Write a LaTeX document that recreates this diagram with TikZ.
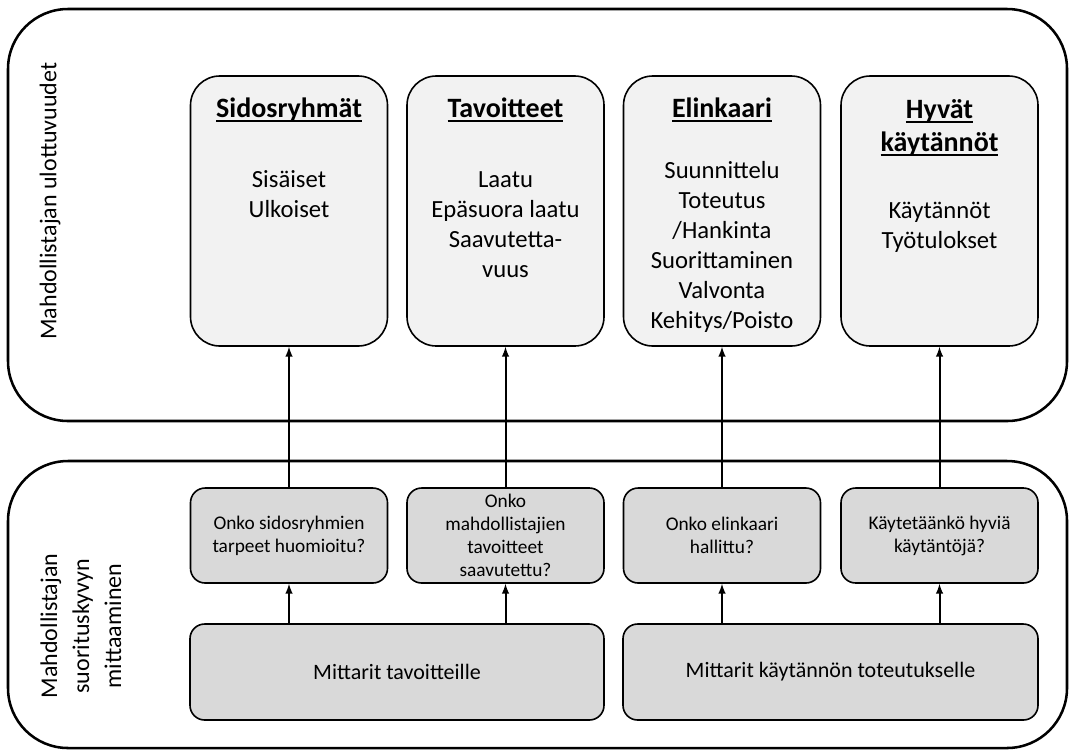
\documentclass[tikz,border=0pt]{standalone}
\usepackage{fontspec}
\setmainfont{Carlito}
\usetikzlibrary{positioning}

\definecolor{boxlight}{HTML}{F2F2F2}
\definecolor{boxgray}{HTML}{D9D9D9}

\tikzstyle{outer frame}=[draw,line width=1.9pt,rounded corners=45pt,
    inner sep=0pt,minimum width=794.25pt]
\tikzstyle{dim box}=[draw,fill=boxlight,line width=1.2pt,rounded corners=22pt,
    minimum width=147.75pt,minimum height=202.5pt,inner sep=0pt]
\tikzstyle{question}=[draw,fill=boxgray,line width=1.2pt,rounded corners=11pt,
    minimum width=147.75pt,minimum height=71.25pt,inner xsep=2pt,inner ysep=0pt,
    align=center,font=\fontsize{14.5}{17.25}\selectfont]
\tikzstyle{metric}=[draw,fill=boxgray,line width=1.2pt,rounded corners=11pt,
    minimum height=72pt,font=\fontsize{16.5}{19.5}\selectfont]
\tikzstyle{title}=[align=center,font=\fontsize{21}{24.75}\selectfont\bfseries]
\tikzstyle{items}=[align=center,font=\fontsize{18.5}{22.5}\selectfont]
\tikzstyle{side}=[rotate=90,align=center,font=\fontsize{18}{24}\selectfont]
\tikzstyle{measure}=[line width=1.5pt]
\newcommand{\titleul}[1]{\setbox0=\hbox{#1}\rlap{\rule[-3pt]{\wd0}{1.1pt}}\box0}
\newcommand{\dimbox}[2]{
    \node[dim box] at (#2,211) (#1) {};
}
\newcommand{\measure}[3][]{\draw[->,>=latex,measure,#1] (#2) -- (#3);}

\begin{document}
\begin{tikzpicture}[x=0.75pt,y=-0.75pt]
    \useasboundingbox (0,0) rectangle (1070,751);

    \node[outer frame,minimum height=309pt] at (537.5,215) (dims) {};
    \node[outer frame,minimum height=215.25pt] at (537.5,604.5) (meas) {};
    \node[side] at (50,201) (dimlabel) {Mahdollistajan ulottuvuudet};
    \node[side] at (81,626) (measlabel) {Mahdollistajan\\suorituskyvyn\\mittaaminen};

    \dimbox{sidos}{289}
    \dimbox{tavoit}{505.5}
    \dimbox{elink}{722}
    \dimbox{hyvat}{939.5}

    \node[title] at (289,110) (sidosT) {\titleul{Sidosryhmät}};
    \node[title] at (505.5,110) (tavoitT) {\titleul{Tavoitteet}};
    \node[title] at (722,110) (elinkT) {\titleul{Elinkaari}};
    \node[title] at (939.5,128) (hyvatT) {\titleul{Hyvät}\\\titleul{käytännöt}};

    \node[items] at (289,194) (sidosB) {Sisäiset\\Ulkoiset};
    \node[items] at (505.5,225) (tavoitB) {Laatu\\Epäsuora laatu\\Saavutetta-\\vuus};
    \node[items] at (722,246.5) (elinkB) {Suunnittelu\\Toteutus\\/Hankinta\\Suorittaminen\\Valvonta\\Kehitys/Poisto};
    \node[items] at (939.5,227.5) (hyvatB) {Käytännöt\\Työtulokset};

    \node[question] at (289,535.5) (qSidos) {Onko sidosryhmien\\tarpeet huomioitu?};
    \node[question] at (505.5,535.5) (qTavoit) {Onko\\mahdollistajien\\tavoitteet\\saavutettu?};
    \node[question] at (722,535.5) (qElink) {Onko elinkaari\\hallittu?};
    \node[question] at (939.5,535.5) (qHyvat) {Käytetäänkö hyviä\\käytäntöjä?};

    \node[metric,minimum width=310.5pt] at (397,672) (mTavoit) {Mittarit tavoitteille};
    \node[metric,minimum width=311.25pt] at (830.5,672) (mKayt) {Mittarit käytännön toteutukselle};

    \measure{qSidos}{sidos}
    \measure{qTavoit}{tavoit}
    \measure{qElink}{elink}
    \measure{qHyvat}{hyvat}
    \measure{mTavoit.north -| qSidos}{qSidos}
    \measure{mTavoit.north -| qTavoit}{qTavoit}
    \measure{mKayt.north -| qElink}{qElink}
    \measure{mKayt.north -| qHyvat}{qHyvat}
\end{tikzpicture}
\end{document}
